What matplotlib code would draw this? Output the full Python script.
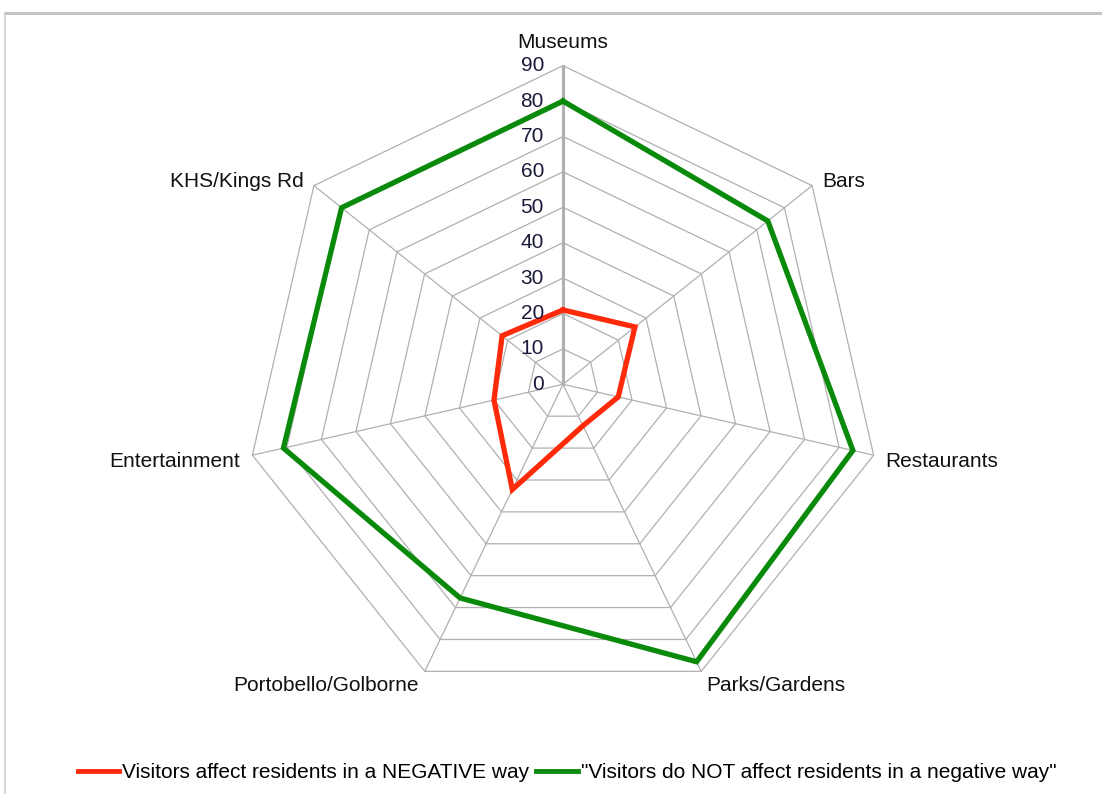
import numpy as np
import matplotlib
matplotlib.use("Agg")
import matplotlib.pyplot as plt
from matplotlib.lines import Line2D

categories = ["Museums", "Bars", "Restaurants", "Parks/Gardens",
              "Portobello/Golborne", "Entertainment", "KHS/Kings Rd"]
negative = [21, 26, 16, 13, 33, 20, 22]
not_negative = [80, 74, 84, 87, 67, 81, 80]
series_names = ["Visitors affect residents in a NEGATIVE way",
                '"Visitors do NOT affect residents in a negative way"']
ticks = [0, 10, 20, 30, 40, 50, 60, 70, 80, 90]

plt.rcParams['font.family'] = ['Liberation Sans', 'DejaVu Sans']

W, H = 1102, 794
fig = plt.figure(figsize=(W / 100, H / 100), dpi=100)
ax = fig.add_axes([0, 0, 1, 1])
ax.set_axis_off()

cx, cy = 563, 794 - 384.3   # centre in figure pixels (from bottom)
s = 3.54                     # pixels per value unit
ax.set_xlim(-cx / s, (W - cx) / s)
ax.set_ylim(-cy / s, (H - cy) / s)

n = len(categories)
ang = np.arange(n) * 2 * np.pi / n
dx, dy = np.sin(ang), np.cos(ang)

def pts(vals):
    v = np.asarray(vals, float)
    x = v * dx
    y = v * dy
    return np.append(x, x[0]), np.append(y, y[0])

grid_c = '#b0b0b0'
rmax = ticks[-1]
for t in ticks[1:]:
    x, y = pts([t] * n)
    ax.plot(x, y, color=grid_c, lw=0.9, zorder=1)
for i in range(n):
    ax.plot([0, rmax * dx[i]], [0, rmax * dy[i]], color=grid_c,
            lw=2.2 if i == 0 else 0.9, zorder=1)

fs = 15
for t in ticks:
    ax.text(-19 / s, t, str(t), ha='right', va='center', fontsize=fs,
            color='#1a1a3a', zorder=4)

# category labels
offs = [(0, 23, 'center', 'center'),
        (10, 4, 'left', 'center'),
        (12, -6, 'left', 'center'),
        (5, -14, 'left', 'center'),
        (-6, -14, 'right', 'center'),
        (-12, -6, 'right', 'center'),
        (-10, 4, 'right', 'center')]
for i, name in enumerate(categories):
    ox, oy, ha, va = offs[i]
    ax.text(rmax * dx[i] + ox / s, rmax * dy[i] + oy / s, name,
            ha=ha, va=va, fontsize=fs, color='#111111')

red = '#ff2a0a'
green = '#0a8a0a'
x, y = pts(negative)
ax.plot(x, y, color=red, lw=3.8, zorder=3, solid_joinstyle='miter')
x, y = pts(not_negative)
ax.plot(x, y, color=green, lw=3.8, zorder=3, solid_joinstyle='miter')

handles = [Line2D([], [], color=red, lw=3.5), Line2D([], [], color=green, lw=3.5)]
fig.legend(handles, series_names, loc='center', bbox_to_anchor=(567 / W, 1 - 773 / H),
           ncol=2, frameon=False, fontsize=fs, handlelength=2.0,
           handletextpad=0.15, columnspacing=0.3)

# outer frame (top and left edges)
fig.add_artist(Line2D([5 / W, 1], [1 - 13 / H, 1 - 13 / H], color='#c4c4c4', lw=2.2))
fig.add_artist(Line2D([5 / W, 5 / W], [0, 1 - 13 / H], color='#d0d0d0', lw=1.2))

fig.savefig('out.png', dpi=100)
